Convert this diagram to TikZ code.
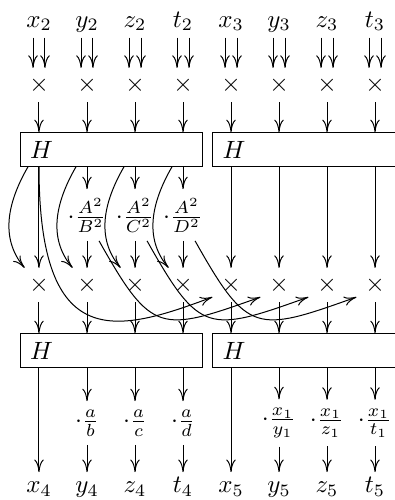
\documentclass[tikz,border=0pt]{standalone}
\usetikzlibrary{calc,arrows.meta}

\begin{document}
\begin{tikzpicture}[x=0.675cm,y=0.675cm,>={To[length=5pt,width=3.8pt]},
        lab/.style={anchor=base,inner sep=2pt,text height=6.2pt,text depth=2pt},
        mul/.style={inner sep=3.33pt},
        hbox/.style={draw,text width=65.2pt,align=left,minimum height=13.5pt,inner xsep=4pt},
        frac/.style={inner sep=3.33pt}]
    \useasboundingbox (-0.8125,0.5625) rectangle (7.396,-9.854);
    % inputs, both rows of products, outputs
    \foreach \i/\lbl in {0/x_2,1/y_2,2/z_2,3/t_2,4/x_3,5/y_3,6/z_3,7/t_3} {
        \node[lab] (inp\i) at (\i,0) {$\lbl$};
        \node[mul] (mulA\i) at (\i,-1.208) {$\times$};
        \node[mul] (mulB\i) at (\i,-5.375) {$\times$};
        \draw[->] ([xshift=-2.4pt]inp\i.south) -- ([xshift=-2.4pt]mulA\i.north);
        \draw[->] ([xshift=2.4pt]inp\i.south) -- ([xshift=2.4pt]mulA\i.north);
    }
    \foreach \i/\lbl in {0/x_4,1/y_4,2/z_4,3/t_4,4/x_5,5/y_5,6/z_5,7/t_5}
        \node[lab] (out\i) at (\i,-9.708) {$\lbl$};
    % transforms
    \node[hbox] (HAl) at (1.51,-2.552) {$H$};
    \node[hbox] (HAr) at (5.525,-2.552) {$H$};
    \node[hbox] (HBl) at (1.51,-6.74) {$H$};
    \node[hbox] (HBr) at (5.525,-6.74) {$H$};
    % scalings
    \foreach \i/\den in {1/B,2/C,3/D}
        \node[frac] (fracA\i) at (\i,-3.917) {$\cdot\frac{A^2}{\den^2}$};
    \foreach \i/\f in {1/\frac{a}{b},2/\frac{a}{c},3/\frac{a}{d},5/\frac{x_1}{y_1},6/\frac{x_1}{z_1},7/\frac{x_1}{t_1}}
        \node[frac] (fracB\i) at (\i,-8.25) {$\cdot\f$};
    % straight wires
    \foreach \i/\bx in {0/l,1/l,2/l,3/l,4/r,5/r,6/r,7/r} {
        \draw[->] (mulA\i) -- (mulA\i |- HA\bx.north);
        \draw[->] (mulB\i) -- (mulB\i |- HB\bx.north);
    }
    \foreach \i/\bx in {0/l,4/r,5/r,6/r,7/r}
        \draw[->] (HA\bx.south -| mulB\i) -- (mulB\i);
    \foreach \i in {1,2,3} {
        \draw[->] (HAl.south -| fracA\i) -- (fracA\i);
        \draw[->] (fracA\i) -- (mulB\i);
    }
    \foreach \i/\bx in {0/l,4/r}
        \draw[->] (HB\bx.south -| out\i) -- (out\i);
    \foreach \i/\bx in {1/l,2/l,3/l,5/r,6/r,7/r} {
        \draw[->] (HB\bx.south -| fracB\i) -- (fracB\i);
        \draw[->] (fracB\i) -- (out\i);
    }
    % crossing wires
    \foreach \i in {0,1,2,3}
        \draw[->] ($(HAl.south -| mulB\i)+(-0.23,0)$) to[out=240,in=130] (mulB\i.130);
    \draw[->] (HAl.south -| mulB0) .. controls +(0,-3.9) and +(-2,-0.75) .. (mulB4.213);
    \foreach \i/\j in {1/5,2/6,3/7}
        \draw[->] (fracA\i.-65) .. controls +(1.1,-1.95) and +(-2.1,-0.75) .. (mulB\j.213);
\end{tikzpicture}
\end{document}
